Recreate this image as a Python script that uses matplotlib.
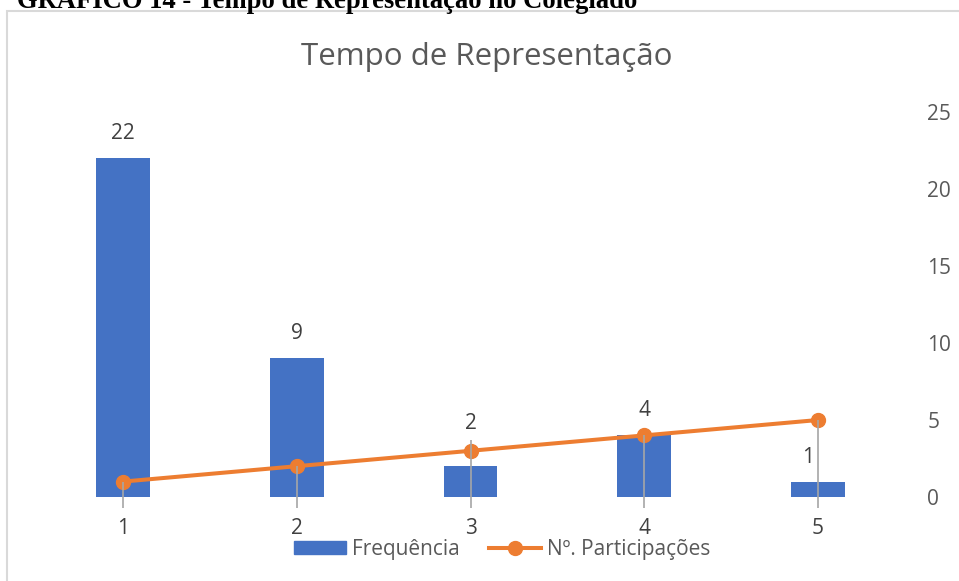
import matplotlib.pyplot as plt
from matplotlib.patches import Rectangle
from matplotlib.lines import Line2D
from matplotlib.patches import Patch

# data
categories = [1, 2, 3, 4, 5]
frequencia = [22, 9, 2, 4, 1]
participacoes = [1, 2, 3, 4, 5]
drop_tops = [1, 2, 3.7, 4, 5]          # top of the grey vertical lines
label_dx = [0, 0, 0, 0, -7]            # data label shift in points
label_dy = [18, 18, 31, 18, 17]

BLUE = "#4472C4"
ORANGE = "#ED7D31"
GREY_TXT = "#595959"
FONT = "Open Sans"

plt.rcParams["font.family"] = [FONT, "DejaVu Sans"]

fig = plt.figure(figsize=(9.59, 5.81), dpi=100)
ax = fig.add_axes([36 / 959, 1 - 497 / 581, (905 - 36) / 959, (497 - 112) / 581])

ax.bar(categories, frequencia, width=0.31, color=BLUE, zorder=2)
ax.plot(categories, participacoes, color=ORANGE, lw=2.9, marker="o",
        markersize=10, zorder=3)
ax.vlines(categories, -0.7, drop_tops, color="#A6A6A6", lw=1.2,
          zorder=4, clip_on=False)

for x, v, dx, dy in zip(categories, frequencia, label_dx, label_dy):
    ax.annotate(str(v), (x, v), xytext=(dx, dy), textcoords="offset points",
                ha="center", va="center", fontsize=15, color="#404040")

ax.set_xlim(0.5, 5.5)
ax.set_ylim(0, 25)
ax.set_xticks(categories)
ax.set_xticklabels([str(c) for c in categories])
ax.set_yticks(range(0, 26, 5))
ax.yaxis.tick_right()
ax.tick_params(axis="y", length=0, pad=16, labelsize=15, labelcolor=GREY_TXT)
ax.tick_params(axis="x", length=0, pad=15, labelsize=15, labelcolor="#404040")
for lbl in ax.get_yticklabels():
    lbl.set_ha("left")
for s in ax.spines.values():
    s.set_visible(False)

fig.text(487 / 959, 1 - 57 / 581, "Tempo de Representação", fontsize=22.5,
         color=GREY_TXT, ha="center", va="center")

handles = [Patch(color=BLUE),
           Line2D([], [], color=ORANGE, lw=2.9, marker="o", markersize=10)]
fig.legend(handles, ["Frequência", "Nº. Participações"], loc="center",
           bbox_to_anchor=(502 / 959, 1 - 549 / 581), ncol=2, frameon=False,
           fontsize=15, handlelength=2.5, handleheight=0.6, handletextpad=0.3,
           columnspacing=1.4, labelcolor=GREY_TXT)

# chart frame
fig.patches.append(Rectangle((7 / 959, -0.1), 1.1, 1 - 11 / 581 + 0.1,
                             transform=fig.transFigure, fill=False,
                             edgecolor="#D9D9D9", lw=1.5))

# document caption, cut at the top edge as in the source page
fig.text(17 / 959, 1 - 8 / 581, "GRÁFICO 14 - Tempo de Representação no Colegiado",
         family="Liberation Serif", weight="bold", fontsize=19.2, va="baseline")

fig.savefig("out.png", dpi=100)
